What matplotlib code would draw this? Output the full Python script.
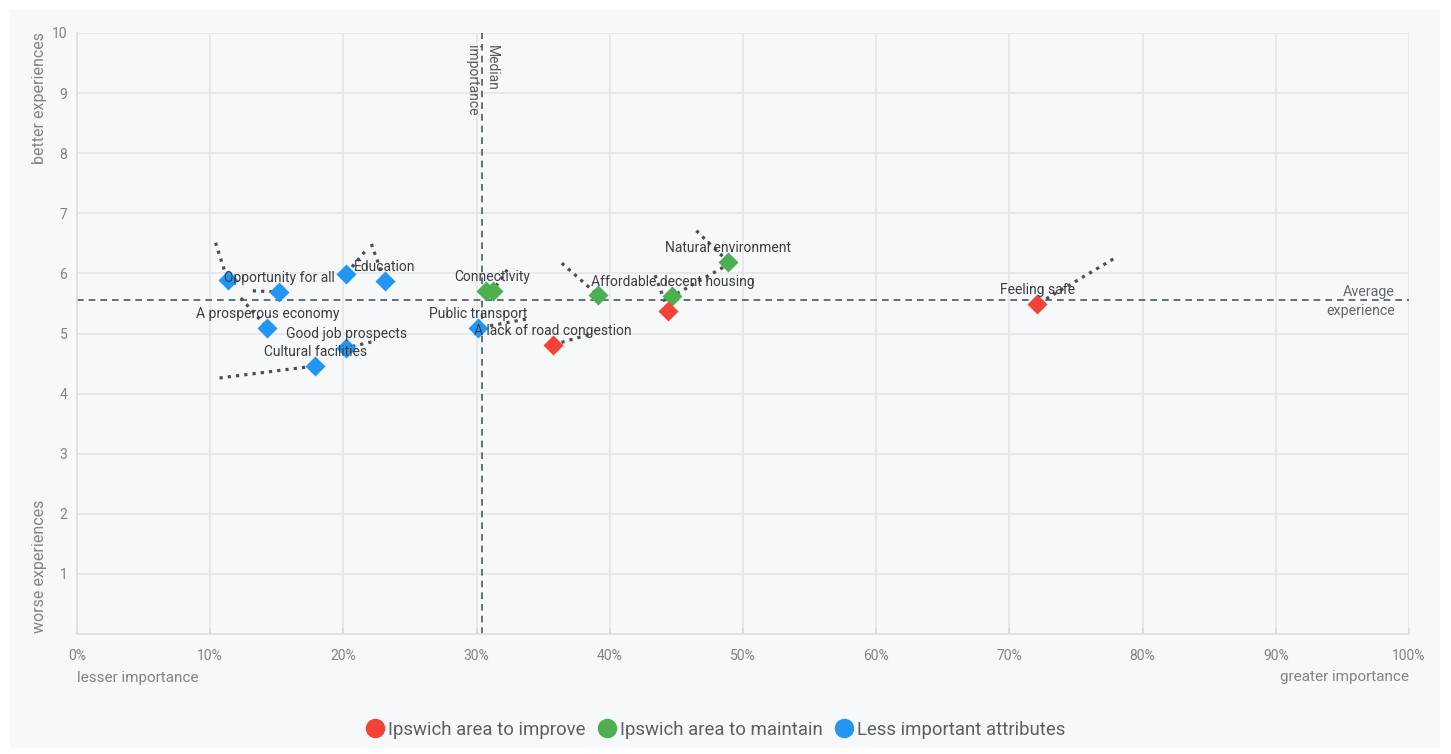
import matplotlib.pyplot as plt
from matplotlib.patches import Rectangle
from matplotlib.lines import Line2D

plt.rcParams['font.family'] = ['Roboto', 'DejaVu Sans']

# Attribute positions: importance (%) and experience score
names = ["", "Opportunity for all", "A prosperous economy", "", "Education",
         "Good job prospects", "Cultural facilities", "Public transport",
         "", "Connectivity", "", "Affordable decent housing", "Natural environment",
         "A lack of road congestion", "", "Feeling safe"]
groups = ["less", "less", "less", "less", "less", "less", "less", "less",
          "maintain", "maintain", "maintain", "maintain", "maintain",
          "improve", "improve", "improve"]
importance = [11.3, 15.2, 14.3, 20.2, 23.1, 20.2, 17.9, 30.1,
              30.7, 31.2, 39.1, 44.7, 48.9, 35.7, 44.4, 72.1]
experience = [5.89, 5.69, 5.09, 5.99, 5.87, 4.76, 4.46, 5.09,
              5.71, 5.71, 5.64, 5.62, 6.19, 4.81, 5.37, 5.49]
# previous positions (start of dotted trails); None = no trail
prev_importance = [10.4, 13.2, 12.3, 21.6, 22.1, 22.1, 10.7, 33.7,
                   None, 32.3, 36.4, 48.5, 46.5, 38.4, 43.4, 77.8]
prev_experience = [6.51, 5.71, 5.59, 6.36, 6.49, 4.86, 4.26, 5.24,
                   None, 6.06, 6.17, 6.10, 6.71, 4.98, 5.97, 6.24]

median_importance = 30.4
average_experience = 5.56

colors = {"improve": "#f44336", "maintain": "#4caf50", "less": "#2196f3"}
legend_labels = {"improve": "Ipswich area to improve",
                 "maintain": "Ipswich area to maintain",
                 "less": "Less important attributes"}

x_ticks = list(range(0, 101, 10))
y_ticks = list(range(1, 11))

fig = plt.figure(figsize=(14.51, 7.54), dpi=100)
fig.patch.set_facecolor('white')
# light panel behind everything
fig.patches.append(Rectangle((10 / 1451, 6 / 754), 1430 / 1451, 738 / 754,
                             transform=fig.transFigure, facecolor='#f7f8fa',
                             edgecolor='none', zorder=-5))

ax = fig.add_axes([77 / 1451, 1 - 634 / 754, 1332 / 1451, 601 / 754])
ax.set_zorder(1)
ax.set_facecolor('#f7f8fa')
ax.set_xlim(0, 100)
ax.set_ylim(0, 10)

ax.set_xticks(x_ticks)
ax.set_xticklabels([f"{t}%" for t in x_ticks])
ax.set_yticks(y_ticks)
ax.grid(True, color='#e3e5e8', linewidth=1.2, zorder=0)
ax.set_axisbelow(True)
for side in ['top', 'right']:
    ax.spines[side].set_visible(False)
for side in ['left', 'bottom']:
    ax.spines[side].set_color('#dcdfe3')
    ax.spines[side].set_linewidth(1.2)
ax.tick_params(axis='x', colors='#d5d8dc', labelcolor='#7f848a', labelsize=10,
               length=4, width=1.2, direction='in', pad=11)
ax.tick_params(axis='y', length=0, labelcolor='#7f848a', labelsize=10, pad=7)

# reference lines
ax.axvline(median_importance, color='#455a64', linestyle=(0, (4, 3)), linewidth=1.2, zorder=2)
ax.axhline(average_experience, color='#455a64', linestyle=(0, (4, 3)), linewidth=1.2, zorder=2)
ax.text(median_importance, 9.8, "Median\nimportance", rotation=-90, ha='center', va='top',
        multialignment='left', fontsize=10, color='#555a60', linespacing=1.55)
ax.text(98.95, average_experience - 0.02, "Average\nexperience", ha='right', va='center',
        fontsize=10.3, color='#62676d', linespacing=1.45)

# dotted trails
for px, py, x, y in zip(prev_importance, prev_experience, importance, experience):
    if px is None:
        continue
    ax.plot([px, x], [py, y], linestyle=(0, (1, 1.6)), color='#4a4f55',
            linewidth=2.3, zorder=3)

# points and labels
for name, g, x, y in zip(names, groups, importance, experience):
    ax.plot(x, y, marker='D', markersize=10.5, color=colors[g],
            markeredgecolor='none', linestyle='none', zorder=4)
    if name:
        ax.annotate(name, (x, y), xytext=(0, 10), textcoords='offset points',
                    ha='center', va='center', fontsize=10, color='#3a3d40', zorder=5)

# axis captions
fig.text(40 / 1451, 1 - 98 / 754, "better experiences", rotation=90, ha='center',
         va='center', fontsize=11.5, color='#7f848a')
fig.text(40 / 1451, 1 - 566 / 754, "worse experiences", rotation=90, ha='center',
         va='center', fontsize=11.5, color='#7f848a')
fig.text(77 / 1451, 1 - 678 / 754, "lesser importance", ha='left', va='center',
         fontsize=11, color='#7f848a')
fig.text(1409 / 1451, 1 - 677 / 754, "greater importance", ha='right', va='center',
         fontsize=11, color='#7f848a')

# legend
handles = [Line2D([], [], marker='o', linestyle='none', markersize=13,
                  color=colors[k], label=legend_labels[k])
           for k in ["improve", "maintain", "less"]]
fig.legend(handles=handles, loc='center', bbox_to_anchor=(715 / 1451, 1 - 730 / 754),
           ncol=3, frameon=False, fontsize=13.4, labelcolor='#5c6065',
           handletextpad=0.15, columnspacing=0.6, handlelength=1.1)

fig.savefig('out.png', dpi=100, facecolor='white')
